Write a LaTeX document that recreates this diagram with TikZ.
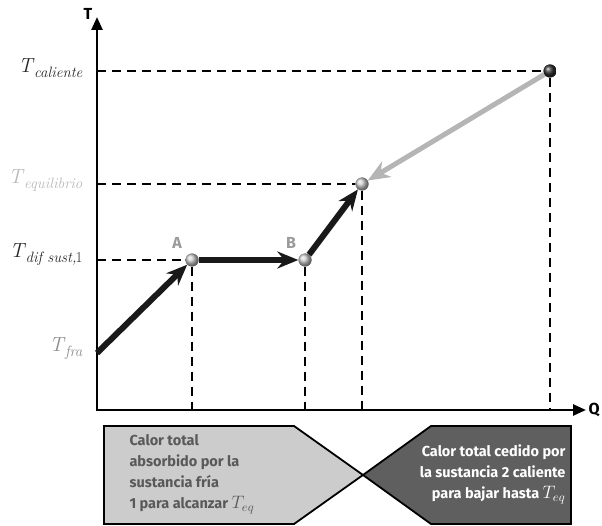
\documentclass[tikz,border=0pt]{standalone}
\usepackage{fontspec}
\setsansfont{Fira Sans}
\usetikzlibrary{arrows.meta}
\definecolor{lightbox}{HTML}{CCCCCC}
\definecolor{darkbox}{HTML}{5F5F5F}
\definecolor{labgray}{HTML}{9A9A9A}
\definecolor{hotline}{HTML}{B5B5B5}
\newcommand{\lev}[1]{\textit{T}\kern-0.5pt\raisebox{-5pt}{\fontsize{15}{15}\selectfont\itshape #1}}
\newcommand{\teq}{\scalebox{1.25}{$T_{eq}$}}
\tikzset{
	ball/.style 2 args={circle,inner sep=0pt,minimum size=13pt,ball color=#1,name=#2},
	guide/.style={dash pattern=on 9pt off 6pt,line width=1.8pt},
	heat/.style={line width=6pt,-{Stealth[length=21pt,width=17pt,inset=7pt]}},
	level/.style={anchor=east,font=\fontsize{20.5}{20}\selectfont},
	boxtext/.style={font=\sffamily\bfseries\fontsize{14.5}{21}\selectfont},
	axlab/.style={font=\sffamily\bfseries\fontsize{16}{16}\selectfont}
}
\begin{document}
\begin{tikzpicture}[x=1pt,y=-1pt]
	\useasboundingbox (0,0) rectangle (602,526);
	% levels and guides
	\node [ball={gray!40}{A}] at (192,260) {};
	\node [ball={gray!40}{B}] at (305,260) {};
	\node [ball={gray!40}{eq}] at (362,184) {};
	\node [ball={black!80}{hot}] at (550,71) {};
	\coordinate (fra) at (97,353);

	\draw [guide] (97,71) -- (hot);
	\draw [guide] (97,184) -- (eq);
	\draw [guide] (97,260) -- (A);
	\draw [guide] (A) -- (192,410);
	\draw [guide] (B) -- (305,410);
	\draw [guide] (eq) -- (362,410);
	\draw [guide] (hot) -- (550,410);

	% axes
	\draw [line width=2.6pt,-{Triangle[length=13pt,width=11pt]}] (97,411.3) -- (97,17);
	\draw [line width=2.6pt,-{Triangle[length=13pt,width=11pt]}] (95.7,410) -- (586,410);
	\node [axlab] (Tax) at (88,14) {T};
	\node [axlab,anchor=west] (Qax) at (585,410) {Q};

	% paths
	\draw [heat,black!90] (fra) -- (A);
	\draw [heat,black!90] (A) -- (B);
	\draw [heat,black!90] (B) -- (eq);
	\draw [line width=5pt,hotline,-{Stealth[length=22pt,width=18pt,inset=7pt]}] (hot) -- (eq);
	\node [ball={gray!40}{A}] at (192,260) {};
	\node [ball={gray!40}{B}] at (305,260) {};
	\node [ball={gray!40}{eq}] at (362,184) {};
	\node [ball={black!80}{hot}] at (550,71) {};
	\node [axlab,text=labgray] (labA) at (177,243) {A};
	\node [axlab,text=labgray] (labB) at (291,243) {B};

	% level labels
	\node [level,text=black!85] (Tcal) at (86,68) {\lev{caliente}};
	\node [level,text=labgray!70] (Teq) at (86,181) {\lev{equilibrio}};
	\node [level,text=black!85] (Tdif) at (86,255) {\lev{dif sust,}\kern-1pt\raisebox{-5pt}{\fontsize{15}{15}\selectfont 1}};
	\node [level,text=labgray!90!black] (Tfra) at (86,349) {\lev{fra}};

	% heat boxes
	\filldraw [fill=lightbox,line width=1.8pt] (104,426) -- (294,426) -- (363,475) -- (294,524) -- (104,524) -- cycle;
	\filldraw [fill=darkbox,line width=1.8pt] (571,426) -- (431,426) -- (363,475) -- (431,524) -- (571,524) -- cycle;
	\node [boxtext,text=black!65,align=left,anchor=west] (absorb) at (126,474)
		{Calor total\\absorbido por la\\sustancia fría\\1 para alcanzar \teq};
	\node [boxtext,text=white,align=right,anchor=east] (cede) at (569,474)
		{Calor total cedido por\\la sustancia 2 caliente\\para bajar hasta \teq};
\end{tikzpicture}
\end{document}
